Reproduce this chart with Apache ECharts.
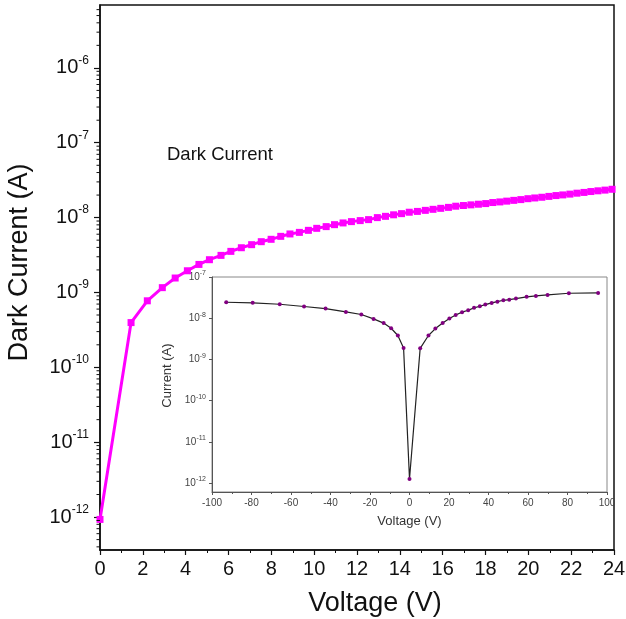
<!DOCTYPE html>
<html>
<head>
<meta charset="utf-8">
<script src="https://cdn.jsdelivr.net/npm/echarts@6/dist/echarts.min.js"></script>
<style>
  html, body { margin: 0; padding: 0; background: #fff; }
  #chart { width: 626px; height: 619px; }
</style>
</head>
<body>
<div id="chart"></div>
<script>
// main plot: dark current, 0..24 V
const mainVoltage = [0, 1.45, 2.21, 2.91, 3.51, 4.08, 4.62, 5.11, 5.65, 6.11,
  6.60, 7.08, 7.53, 7.99, 8.44, 8.87, 9.31, 9.73, 10.12, 10.56,
  10.95, 11.35, 11.74, 12.15, 12.54, 12.95, 13.33, 13.71, 14.08, 14.44,
  14.82, 15.19, 15.55, 15.91, 16.27, 16.61, 16.97, 17.32, 17.67, 18.01,
  18.34, 18.67, 18.99, 19.32, 19.65, 19.98, 20.30, 20.63, 20.96, 21.29,
  21.61, 21.94, 22.27, 22.60, 22.92, 23.25, 23.58, 23.91];
const mainCurrent = [9.3e-13, 3.96e-10, 7.74e-10, 1.16e-9, 1.56e-9, 1.95e-9, 2.37e-9, 2.74e-9, 3.13e-9, 3.54e-9,
  3.96e-9, 4.35e-9, 4.77e-9, 5.13e-9, 5.62e-9, 6.05e-9, 6.35e-9, 6.76e-9, 7.19e-9, 7.58e-9,
  8.05e-9, 8.49e-9, 8.84e-9, 9.12e-9, 9.4e-9, 1.0e-8, 1.04e-8, 1.09e-8, 1.13e-8, 1.18e-8,
  1.21e-8, 1.25e-8, 1.29e-8, 1.33e-8, 1.37e-8, 1.42e-8, 1.45e-8, 1.48e-8, 1.51e-8, 1.54e-8,
  1.59e-8, 1.62e-8, 1.66e-8, 1.70e-8, 1.74e-8, 1.79e-8, 1.83e-8, 1.87e-8, 1.92e-8, 1.97e-8,
  2.01e-8, 2.06e-8, 2.12e-8, 2.17e-8, 2.23e-8, 2.28e-8, 2.33e-8, 2.39e-8];

// inset: -100..100 V sweep
const insetVoltage = [-92.8, -79.4, -65.7, -53.4, -42.5, -32.2, -24.4, -18.2, -13.1, -9.3,
  -5.9, -3.0, 0, 5.4, 9.6, 13.1, 16.8, 20.2, 23.4, 26.6,
  29.7, 32.7, 35.6, 38.4, 41.6, 44.5, 47.5, 50.5, 53.9, 59.3,
  64.0, 69.9, 80.7, 95.5];
const insetCurrent = [2.44e-8, 2.36e-8, 2.18e-8, 1.92e-8, 1.71e-8, 1.42e-8, 1.23e-8, 9.6e-9, 7.6e-9, 5.7e-9,
  3.8e-9, 1.9e-9, 1.25e-12, 1.85e-9, 3.8e-9, 5.6e-9, 7.6e-9, 9.8e-9, 1.2e-8, 1.4e-8,
  1.56e-8, 1.78e-8, 1.95e-8, 2.14e-8, 2.35e-8, 2.52e-8, 2.72e-8, 2.82e-8, 3.0e-8, 3.3e-8,
  3.48e-8, 3.67e-8, 4.03e-8, 4.1e-8];

// axis ranges (log axes span a bit beyond the labelled decades)
const mainYMin = Math.pow(10, -12.44);
const mainYMax = Math.pow(10, -5.16);
const insetYMin = Math.pow(10, -12.22);
const insetYMax = 1e-7;
const minorMultipliers = [2, 3, 4, 5, 6, 7, 8, 9];
const mainDecades = [-13, -12, -11, -10, -9, -8, -7, -6];

const FONT = '"Liberation Sans", Arial, sans-serif';

function pairs(xs, ys) {
  return xs.map((x, i) => [x, ys[i]]);
}

function logMinorTicks(decades, lo, hi) {
  const out = [];
  decades.forEach(d => {
    minorMultipliers.forEach(m => {
      const v = m * Math.pow(10, d);
      if (v > lo && v < hi) out.push([0, v]);
    });
  });
  return out;
}

function powLabel(value) {
  const e = Math.round(Math.log10(value));
  return '{b|10}{sup|' + e + '}';
}

const chart = echarts.init(document.getElementById('chart'));

chart.setOption({
  backgroundColor: '#fff',
  animation: false,
  title: {
    text: 'Dark Current',
    left: 162,
    top: 140,
    textStyle: { fontFamily: FONT, fontSize: 18.5, fontWeight: 'normal', color: '#111' }
  },
  grid: [
    {
      left: 100, right: 12, top: 5, bottom: 69,
      outerBoundsMode: 'none',
      show: true, borderColor: '#111', borderWidth: 1.5, backgroundColor: '#fff'
    },
    {
      left: 212, right: 19, top: 277, bottom: 127,
      outerBoundsMode: 'none',
      show: true, borderColor: '#888', borderWidth: 1, backgroundColor: '#fff'
    }
  ],
  xAxis: [
    {
      gridIndex: 0, type: 'value', min: 0, max: 24, interval: 2,
      axisLine: { onZero: false, lineStyle: { color: '#111', width: 1.5 } },
      axisTick: { inside: false, length: 5, lineStyle: { color: '#111', width: 1.2 } },
      minorTick: { show: true, splitNumber: 2, length: 3, lineStyle: { color: '#111', width: 1 } },
      splitLine: { show: false },
      axisLabel: { margin: 9, fontFamily: FONT, fontSize: 20, color: '#111' },
      name: 'Voltage (V)', nameLocation: 'middle', nameGap: 40,
      nameTextStyle: { fontFamily: FONT, fontSize: 27, color: '#111', padding: [0, 0, 0, 36] }
    },
    {
      gridIndex: 1, type: 'value', min: -100, max: 100, interval: 20,
      axisLine: { onZero: false, lineStyle: { color: '#555', width: 1 } },
      axisTick: { inside: false, length: 3, lineStyle: { color: '#555' } },
      minorTick: { show: true, splitNumber: 2, length: 2, lineStyle: { color: '#555' } },
      splitLine: { show: false },
      axisLabel: { margin: 6, fontFamily: FONT, fontSize: 10, color: '#444' },
      name: 'Voltage (V)', nameLocation: 'middle', nameGap: 23,
      nameTextStyle: { fontFamily: FONT, fontSize: 13, color: '#333' }
    }
  ],
  yAxis: [
    {
      gridIndex: 0, type: 'log', logBase: 10, min: mainYMin, max: mainYMax,
      axisLine: { onZero: false, lineStyle: { color: '#111', width: 1.5 } },
      axisTick: { inside: false, length: 6, lineStyle: { color: '#111', width: 1.2 } },
      splitLine: { show: false },
      axisLabel: {
        margin: 11, showMinLabel: false, showMaxLabel: false,
        formatter: powLabel,
        rich: {
          b: { fontFamily: FONT, fontSize: 20, color: '#111' },
          sup: { fontFamily: FONT, fontSize: 12, color: '#111', padding: [0, 0, 15, 0] }
        }
      },
      name: 'Dark Current (A)', nameLocation: 'middle', nameGap: 67,
      nameTextStyle: { fontFamily: FONT, fontSize: 27, color: '#111', padding: [0, 0, 0, 30] }
    },
    {
      gridIndex: 1, type: 'log', logBase: 10, min: insetYMin, max: insetYMax,
      axisLine: { onZero: false, lineStyle: { color: '#555', width: 1 } },
      axisTick: { inside: false, length: 3, lineStyle: { color: '#555' } },
      splitLine: { show: false },
      axisLabel: {
        margin: 6, showMinLabel: false,
        formatter: function (v) {
          if (v < 1e-12 * 0.9) return '';
          return powLabel(v);
        },
        rich: {
          b: { fontFamily: FONT, fontSize: 10, color: '#444' },
          sup: { fontFamily: FONT, fontSize: 7, color: '#444', padding: [0, 0, 7, 0] }
        }
      },
      name: 'Current (A)', nameLocation: 'middle', nameGap: 30,
      nameTextStyle: { fontFamily: FONT, fontSize: 13, color: '#333', padding: [0, 0, 0, 18] }
    }
  ],
  series: [
    {
      // log-decade minor ticks on the main current axis
      type: 'custom',
      xAxisIndex: 0, yAxisIndex: 0,
      silent: true, clip: false, z: 10,
      data: logMinorTicks(mainDecades, mainYMin, mainYMax),
      renderItem: function (params, api) {
        const p = api.coord([0, api.value(1)]);
        return {
          type: 'line',
          shape: { x1: p[0] - 3.5, y1: p[1], x2: p[0], y2: p[1] },
          style: { stroke: '#111', lineWidth: 1 }
        };
      }
    },
    {
      name: 'Dark Current',
      type: 'line',
      xAxisIndex: 0, yAxisIndex: 0,
      data: pairs(mainVoltage, mainCurrent),
      symbol: 'rect', symbolSize: 7,
      lineStyle: { color: '#ff00ff', width: 3 },
      itemStyle: { color: '#ff00ff' },
      z: 2
    },
    {
      name: 'Inset',
      type: 'line',
      xAxisIndex: 1, yAxisIndex: 1,
      data: pairs(insetVoltage, insetCurrent),
      symbol: 'circle', symbolSize: 4,
      lineStyle: { color: '#222', width: 1.2 },
      itemStyle: { color: '#800080' },
      z: 5
    }
  ]
});
</script>
</body>
</html>
